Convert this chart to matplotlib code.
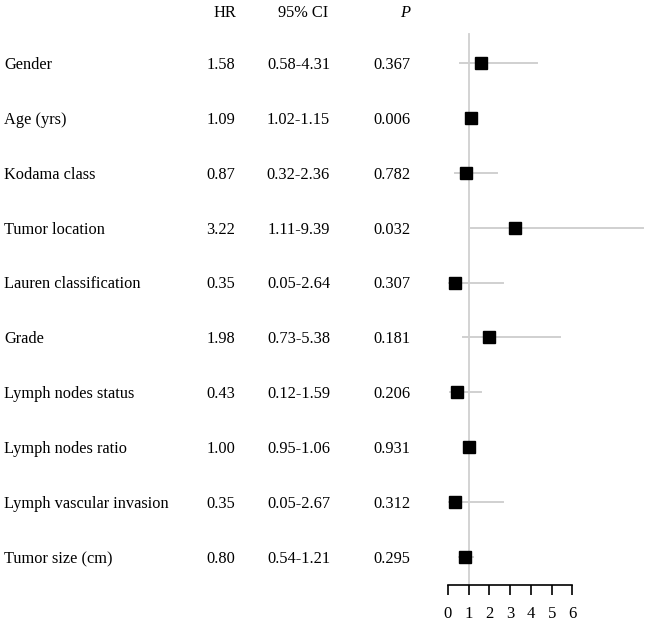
import matplotlib.pyplot as plt
from matplotlib.transforms import blended_transform_factory

plt.rcParams['font.family'] = ['Liberation Serif', 'DejaVu Serif']

# data
variables = ["Gender", "Age (yrs)", "Kodama class", "Tumor location",
             "Lauren classification", "Grade", "Lymph nodes status",
             "Lymph nodes ratio", "Lymph vascular invasion", "Tumor size (cm)"]
hr = [1.58, 1.09, 0.87, 3.22, 0.35, 1.98, 0.43, 1.00, 0.35, 0.80]
ci_low = [0.58, 1.02, 0.32, 1.11, 0.05, 0.73, 0.12, 0.95, 0.05, 0.54]
ci_high = [4.31, 1.15, 2.36, 9.39, 2.64, 5.38, 1.59, 1.06, 2.67, 1.21]
p_values = ["0.367", "0.006", "0.782", "0.032", "0.307",
            "0.181", "0.206", "0.931", "0.312", "0.295"]
xticks = [0, 1, 2, 3, 4, 5, 6]

W, H = 645, 624
fig = plt.figure(figsize=(W / 100, H / 100), dpi=100)
# axes: left at data 0 (px 448), bottom spine at px 585
ax = fig.add_axes([448 / W, (H - 585) / H, (W - 448) / W, (585 - 5) / H])

fs = 11.8
rows = list(range(len(variables)))
ax.plot([1, 1], [9.51, -0.53], color='#d0d0d0', lw=1.3, zorder=1)
for i in rows:
    ax.plot([ci_low[i], ci_high[i]], [i, i], color='#d0d0d0', lw=1.4, zorder=2)
ax.plot(hr, rows, 's', color='black', markersize=8.8, zorder=3, clip_on=False)

ax.set_xlim(0, 9.5)
ax.set_ylim(9.51, -1.055)

for s in ['top', 'right', 'left']:
    ax.spines[s].set_visible(False)
ax.spines['bottom'].set_bounds(0, 6)
ax.spines['bottom'].set_linewidth(1.2)
ax.set_yticks([])
ax.set_xticks(xticks)
ax.set_xticklabels([str(t) for t in xticks])
ax.tick_params(axis='x', length=7, width=1.2, pad=8, labelsize=12)

tr = blended_transform_factory(fig.transFigure, ax.transData)
hy = -0.91
dy = 0.035  # small nudge so text sits level with the markers
ax.text(236 / W, hy, "HR", transform=tr, ha='right', va='center', fontsize=fs, clip_on=False)
ax.text(328 / W, hy, "95% CI", transform=tr, ha='right', va='center', fontsize=fs, clip_on=False)
ax.text(410 / W, hy, "P", transform=tr, ha='right', va='center', fontsize=fs,
        style='italic', clip_on=False)

for i in rows:
    y = i + dy
    ax.text(4 / W, y, variables[i], transform=tr, ha='left', va='center', fontsize=fs, clip_on=False)
    ax.text(235 / W, y, f"{hr[i]:.2f}", transform=tr, ha='right', va='center', fontsize=fs, clip_on=False)
    ax.text(330 / W, y, f"{ci_low[i]:.2f}-{ci_high[i]:.2f}", transform=tr, ha='right',
            va='center', fontsize=fs, clip_on=False)
    ax.text(410 / W, y, p_values[i], transform=tr, ha='right', va='center', fontsize=fs, clip_on=False)

fig.savefig('out.png', dpi=100)
